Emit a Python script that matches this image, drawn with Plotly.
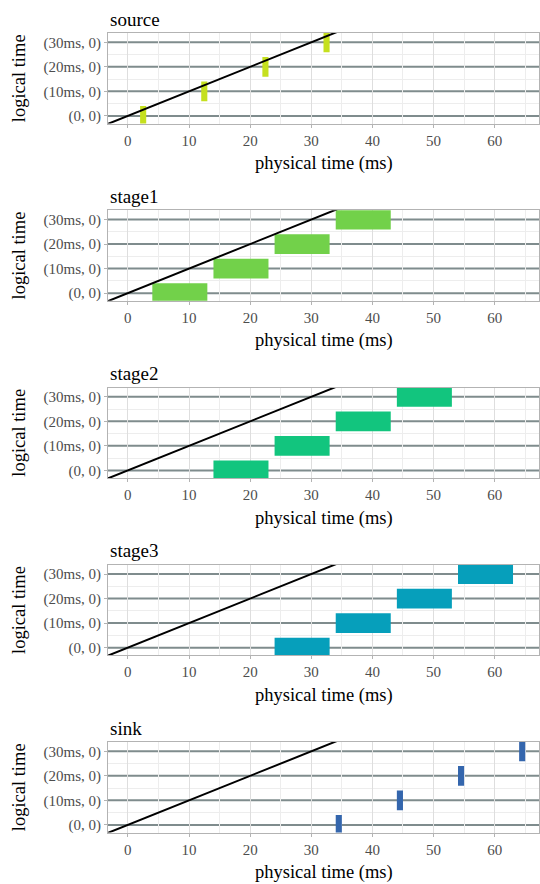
import plotly.graph_objects as go

# ---- data ----
stages = ["source", "stage1", "stage2", "stage3", "sink"]
stage_colors = ["#c5e01e", "#72d14a", "#12c57e", "#069fbb", "#3466ad"]
logical_times = [0, 10, 20, 30]
tick_labels = ["(0, 0)", "(10ms, 0)", "(20ms, 0)", "(30ms, 0)"]
x_ticks = [0, 10, 20, 30, 40, 50, 60]

source_start = [2, 12, 22, 32]
source_end = [3, 13, 23, 33]
stage1_start = [4, 14, 24, 34]
stage1_end = [13, 23, 33, 43]
stage2_start = [14, 24, 34, 44]
stage2_end = [23, 33, 43, 53]
stage3_start = [24, 34, 44, 54]
stage3_end = [33, 43, 53, 63]
sink_start = [34, 44, 54, 64]
sink_end = [35, 45, 55, 65]

starts = [source_start, stage1_start, stage2_start, stage3_start, sink_start]
ends = [source_end, stage1_end, stage2_end, stage3_end, sink_end]

# diagonal: physical time == logical time
diag_x = [-10, 40]
diag_y = [-10, 40]

# ---- layout geometry ----
W, H = 540, 884
LEFT, RIGHT = 108, 539
TOP0, STEP, PH = 33, 177.25, 90.5
FONT = "Liberation Serif"
XR = [-3.25, 67.25]
YR = [-3.1, 33.8]


def py(px):
    return 1 - px / H


fig = go.Figure()
layout = dict(
    width=W, height=H, margin=dict(l=0, r=0, t=0, b=0),
    paper_bgcolor="white", plot_bgcolor="white", showlegend=False,
    font=dict(family=FONT), annotations=[], shapes=[],
)

for i, name in enumerate(stages):
    k = "" if i == 0 else str(i + 1)
    xa, ya = "x" + k, "y" + k
    top = TOP0 + STEP * i
    bot = top + PH
    durations = [e - s for s, e in zip(starts[i], ends[i])]
    fig.add_trace(go.Bar(
        y=logical_times, x=durations, base=starts[i], orientation="h",
        width=8, marker=dict(color=stage_colors[i], line=dict(width=0)),
        xaxis=xa, yaxis=ya, hoverinfo="skip"))
    fig.add_trace(go.Scatter(
        x=diag_x, y=diag_y, mode="lines", line=dict(color="black", width=2),
        xaxis=xa, yaxis=ya, hoverinfo="skip"))

    axis_common = dict(
        showline=True, mirror=True, linecolor="#b3b3b3", linewidth=1,
        ticks="outside", ticklen=3, tickcolor="#b3b3b3", tickwidth=1,
        tickfont=dict(family=FONT, size=15, color="#4d4d4d"),
        zeroline=False, gridcolor="#dedede", gridwidth=1,
        automargin=False, fixedrange=True,
    )
    layout["xaxis" + k] = dict(
        axis_common, domain=[LEFT / W, RIGHT / W], range=XR,
        tickvals=x_ticks, anchor=ya, showgrid=True,
        minor=dict(tickmode="array", tickvals=[v + 5 for v in x_ticks],
                   showgrid=True, gridcolor="#ededed", gridwidth=1, ticks=""),
    )
    layout["yaxis" + k] = dict(
        axis_common, domain=[py(bot), py(top)], range=YR,
        tickvals=logical_times, ticktext=tick_labels, anchor=xa, showgrid=False,
        minor=dict(tickmode="array", tickvals=[v + 5 for v in logical_times],
                   showgrid=True, gridcolor="#ededed", gridwidth=1, ticks=""),
    )
    for v in logical_times:
        layout["shapes"].append(dict(
            type="line", xref=xa, yref=ya, x0=XR[0], x1=XR[1], y0=v, y1=v,
            line=dict(color="#7f8c8d", width=2), layer="below"))

    layout["annotations"] += [
        dict(text=name, xref="paper", yref="paper", x=LEFT / W, y=py(top - 14),
             xanchor="left", yanchor="middle", showarrow=False,
             font=dict(family=FONT, size=19, color="black")),
        dict(text="logical time", xref="paper", yref="paper", x=19 / W, y=py((top + bot) / 2),
             xanchor="center", yanchor="middle", textangle=-90, showarrow=False,
             font=dict(family=FONT, size=18.5, color="black")),
        dict(text="physical time (ms)", xref="paper", yref="paper",
             x=(LEFT + RIGHT) / 2 / W, y=py(bot + 40),
             xanchor="center", yanchor="middle", showarrow=False,
             font=dict(family=FONT, size=18.5, color="black")),
    ]

fig.update_layout(**layout)
fig.write_html("out.html")
